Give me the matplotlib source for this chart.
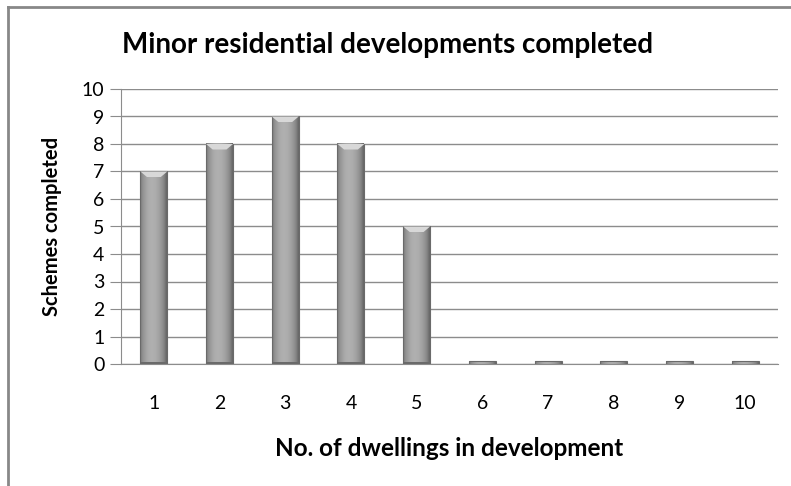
import numpy as np
import matplotlib.pyplot as plt
from matplotlib.patches import Rectangle, Polygon
from matplotlib.lines import Line2D

# dwellings per scheme vs. number of schemes completed
dwellings = [1, 2, 3, 4, 5, 6, 7, 8, 9, 10]
schemes = [7, 8, 9, 8, 5, 0, 0, 0, 0, 0]

plt.rcParams['font.family'] = ['Lato', 'DejaVu Sans']

fig = plt.figure(figsize=(7.91, 4.86), dpi=100)
ax = fig.add_axes([121 / 791, 1 - 364 / 486, 657 / 791, 275 / 486])

# outer chart frame (top and left edges only show)
fx, fy = 7.5 / 791, 1 - 7 / 486
fig.add_artist(Line2D([fx, fx], [0, fy], color='#888888', lw=2, transform=fig.transFigure))
fig.add_artist(Line2D([fx, 1], [fy, fy], color='#888888', lw=2, transform=fig.transFigure))

x = np.arange(len(dwellings))
width = 0.41
stub = 0.1

# horizontal shading for the bevelled bars
grad = np.array([0.48, 0.58, 0.64, 0.68, 0.69, 0.68, 0.65, 0.60, 0.53, 0.40])
grad = np.interp(np.linspace(0, 9, 60), np.arange(10), grad)[None, :]

for xi, v in zip(x, schemes):
    h = max(v, stub)
    l, r = xi - width / 2, xi + width / 2
    ax.imshow(grad, cmap='gray', vmin=0, vmax=1, aspect='auto',
              extent=(l, r, 0, h), zorder=3, interpolation='bilinear')
    ax.add_patch(Rectangle((l, 0), width, h, fill=False,
                           edgecolor='#6a6a6a', lw=0.8, zorder=4))
    if v > 0:
        # light bevel on top of each bar
        ax.add_patch(Polygon([(l, h), (r, h), (r - 0.1, h - 0.2), (l + 0.1, h - 0.2)],
                             closed=True, facecolor='#d8d8d8', edgecolor='none', zorder=4))
        ax.add_patch(Rectangle((l, 0), width, 0.08, facecolor='#6a6a6a',
                               edgecolor='none', zorder=4))

ax.set_xlim(-0.5, len(dwellings) - 0.5)
ax.set_ylim(0, 10)
ax.set_yticks(range(0, 11))
ax.set_xticks(x)
ax.set_xticklabels(dwellings)
ax.yaxis.grid(True, color='#8c8c8c', lw=1)
ax.set_axisbelow(True)
for s in ['top', 'right']:
    ax.spines[s].set_visible(False)
ax.spines['left'].set_color('#8c8c8c')
ax.spines['bottom'].set_color('#8c8c8c')
ax.tick_params(axis='y', length=8, color='#8c8c8c', labelsize=14, pad=4)
ax.tick_params(axis='x', length=0, labelsize=14, pad=22)

ax.set_ylabel('Schemes completed', fontsize=14.5, fontweight='bold', labelpad=14)
ax.set_xlabel('No. of dwellings in development', fontsize=17.5, fontweight='bold', labelpad=18)
fig.text(0.49, 1 - 45 / 486, 'Minor residential developments completed',
         fontsize=20, fontweight='bold', ha='center', va='center')

fig.savefig('out.png', dpi=100)
